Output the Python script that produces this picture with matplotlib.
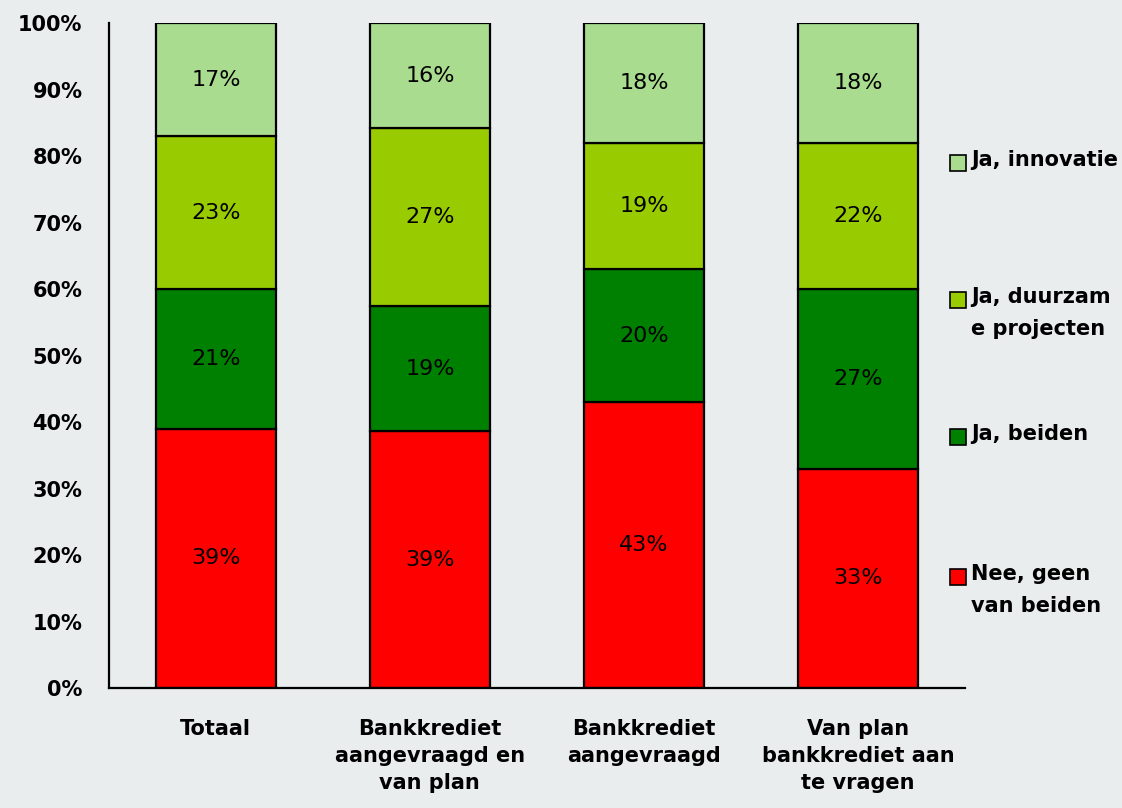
import numpy as np
import matplotlib
matplotlib.use("Agg")
from matplotlib import pyplot as plt
from matplotlib.patches import Rectangle

categories = ["Totaal", "Bankkrediet\naangevraagd en\nvan plan", "Bankkrediet\naangevraagd",
              "Van plan\nbankkrediet aan\nte vragen"]
nee = [39, 39, 43, 33]
beiden = [21, 19, 20, 27]
duurzaam = [23, 27, 19, 22]
innovatie = [17, 16, 18, 18]

series = [
    ("Nee, geen\nvan beiden", nee, "#ff0000"),
    ("Ja, beiden", beiden, "#008000"),
    ("Ja, duurzam\ne projecten", duurzaam, "#99cc00"),
    ("Ja, innovatie", innovatie, "#a9dc8f"),
]

bg = "#e9edee"
fig = plt.figure(figsize=(11.22, 8.08), dpi=100, facecolor=bg)
ax = fig.add_axes([0.097, 0.1485, 0.763, 0.823])
ax.set_facecolor(bg)

x = np.arange(len(categories))
totals = np.sum([s[1] for s in series], axis=0)
bottom = np.zeros(len(categories))
for name, vals, col in series:
    share = np.array(vals) / totals * 100
    ax.bar(x, share, 0.56, bottom=bottom, color=col, edgecolor="black", linewidth=1.6)
    for xi, b, h, v in zip(x, bottom, share, vals):
        ax.text(xi, b + h / 2, f"{v}%", ha="center", va="center", fontsize=16, color="black")
    bottom += share

ax.set_xlim(-0.5, 3.5)
ax.set_ylim(0, 100)
ax.set_yticks(np.arange(0, 101, 10))
ax.set_yticklabels([f"{t}%" for t in range(0, 101, 10)], fontsize=15, fontweight="bold")
ax.set_xticks(x)
ax.set_xticklabels(categories, fontsize=15, fontweight="bold", linespacing=1.45)
ax.tick_params(axis="y", length=0, pad=19)
ax.tick_params(axis="x", length=0, pad=22)
for s in ["top", "right"]:
    ax.spines[s].set_visible(False)
for s in ["left", "bottom"]:
    ax.spines[s].set_linewidth(1.6)

# legend, one entry per series, top to bottom
leg_y = [163, 300, 437, 577]
for (name, vals, col), yp in zip(series[::-1], leg_y):
    fy = 1 - yp / 808
    fig.patches.append(Rectangle((950 / 1122, fy - 8 / 808), 16 / 1122, 16 / 808,
                                 transform=fig.transFigure, facecolor=col,
                                 edgecolor="black", linewidth=1.2))
    fig.text(971 / 1122, fy + 13 / 808, name, fontsize=15, fontweight="bold",
             va="top", ha="left", linespacing=1.75)

fig.savefig("out.png", dpi=100, facecolor=bg)
